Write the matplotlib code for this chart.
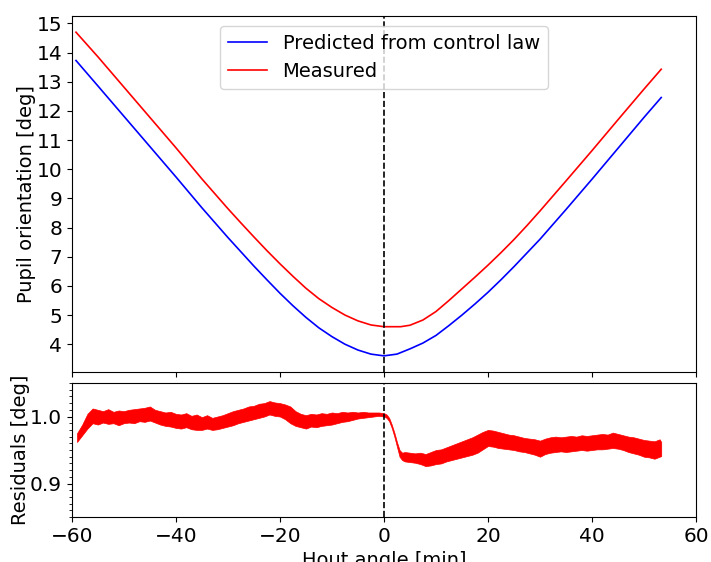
import numpy as np
import matplotlib
matplotlib.use("Agg")
import matplotlib.pyplot as plt
from matplotlib.ticker import MultipleLocator

# predicted pupil orientation (control law) [deg] vs hour angle [min]
pred_x = [-59.2, -55, -50, -45, -40, -35, -30, -27.5, -25, -22.5, -20, -17.5, -15, -12.5, -10, -7.5, -5, -2.5, 0,
          2.5, 5, 7.5, 10, 12.5, 15, 17.5, 20, 22.5, 25, 30, 35, 40, 45, 50, 53.3]
pred_y = [13.73, 12.86, 11.82, 10.78, 9.74, 8.68, 7.66, 7.17, 6.68, 6.21, 5.75, 5.32, 4.92, 4.56, 4.26, 4.00, 3.80, 3.66, 3.60,
          3.66, 3.84, 4.04, 4.30, 4.64, 5.00, 5.38, 5.78, 6.21, 6.66, 7.60, 8.62, 9.66, 10.72, 11.78, 12.46]

# measured pupil orientation [deg]
meas_x = [-59.2, -55, -50, -45, -40, -35, -30, -27.5, -25, -22.5, -20, -17.5, -15, -12.5, -10, -7.5, -5, -2.5, 0, 3.2,
          5, 7.5, 10, 12.5, 15, 17.5, 20, 22.5, 25, 27.5, 30, 35, 40, 45, 50, 53.3]
meas_y = [14.70, 13.86, 12.82, 11.78, 10.74, 9.67, 8.65, 8.16, 7.68, 7.21, 6.76, 6.33, 5.92, 5.56, 5.26, 5.00, 4.80, 4.66, 4.60, 4.60,
          4.65, 4.83, 5.12, 5.50, 5.90, 6.30, 6.71, 7.14, 7.59, 8.07, 8.57, 9.60, 10.64, 11.70, 12.75, 13.43]

# residuals: upper / lower envelope of the noisy trace [deg]
res_x = [-59, -58, -57, -56, -55, -54, -53, -52, -51, -50, -49, -48, -47, -46, -45, -44, -43, -42, -41, -40,
         -39, -38, -37, -36, -35, -34, -33, -32, -31, -30, -29, -28, -27, -26, -25, -24, -23, -22, -21, -20,
         -19, -18, -17, -16, -15, -14, -13, -12, -11, -10, -9, -8, -7, -6, -5, -4, -3, -2, -1, 0,
         0.5, 1, 1.5, 2, 2.5, 3, 3.5, 4, 5, 6, 7, 8, 9, 10, 11, 12, 13, 14, 15, 16, 17, 18, 19, 20,
         21, 22, 23, 24, 25, 26, 27, 28, 29, 30, 31, 32, 33, 34, 35, 36, 37, 38, 39, 40,
         41, 42, 43, 44, 45, 46, 47, 48, 49, 50, 51, 52, 53, 53.3]
res_hi = [0.975, 0.988, 1.004, 1.012, 1.010, 1.008, 1.011, 1.007, 1.009, 1.008, 1.010, 1.011, 1.012, 1.013, 1.015, 1.010, 1.008, 1.006, 1.007, 1.004,
          1.003, 1.005, 1.001, 1.003, 0.999, 1.002, 0.998, 1.000, 1.002, 1.005, 1.008, 1.010, 1.012, 1.015, 1.016, 1.019, 1.020, 1.023, 1.021, 1.020,
          1.018, 1.015, 1.008, 1.004, 1.002, 1.004, 1.003, 1.005, 1.004, 1.006, 1.005, 1.007, 1.006, 1.007, 1.006, 1.007, 1.006, 1.006, 1.006, 1.005,
          1.003, 0.998, 0.988, 0.976, 0.962, 0.950, 0.946, 0.947, 0.946, 0.945, 0.946, 0.944, 0.947, 0.950, 0.951, 0.954, 0.957, 0.960, 0.963, 0.966, 0.969, 0.973, 0.977, 0.980,
          0.979, 0.977, 0.975, 0.973, 0.972, 0.970, 0.968, 0.967, 0.966, 0.964, 0.967, 0.969, 0.970, 0.969, 0.970, 0.971, 0.970, 0.972, 0.971, 0.972,
          0.973, 0.974, 0.973, 0.976, 0.974, 0.972, 0.970, 0.969, 0.967, 0.965, 0.964, 0.963, 0.966, 0.962]
res_lo = [0.962, 0.972, 0.982, 0.990, 0.988, 0.991, 0.989, 0.990, 0.987, 0.990, 0.991, 0.990, 0.993, 0.992, 0.994, 0.991, 0.988, 0.986, 0.985, 0.983,
          0.982, 0.984, 0.981, 0.980, 0.980, 0.982, 0.980, 0.981, 0.983, 0.985, 0.987, 0.990, 0.992, 0.994, 0.996, 0.998, 1.000, 1.003, 1.001, 1.000,
          0.996, 0.990, 0.986, 0.984, 0.982, 0.985, 0.984, 0.986, 0.987, 0.988, 0.990, 0.992, 0.993, 0.995, 0.997, 0.998, 0.999, 1.000, 1.001, 1.000,
          0.998, 0.993, 0.983, 0.970, 0.955, 0.940, 0.935, 0.933, 0.932, 0.931, 0.929, 0.926, 0.927, 0.929, 0.930, 0.933, 0.935, 0.937, 0.939, 0.941, 0.943, 0.946, 0.951, 0.956,
          0.955, 0.953, 0.952, 0.951, 0.950, 0.948, 0.947, 0.945, 0.943, 0.940, 0.944, 0.946, 0.947, 0.948, 0.947, 0.948, 0.949, 0.950, 0.949, 0.950,
          0.951, 0.951, 0.952, 0.953, 0.952, 0.950, 0.947, 0.945, 0.943, 0.940, 0.939, 0.937, 0.940, 0.941]

plt.rcParams["font.size"] = 14
plt.rcParams["xtick.labelsize"] = 14.5
plt.rcParams["ytick.labelsize"] = 14.5

fig = plt.figure(figsize=(7.11, 5.62), dpi=100)
ax1 = fig.add_axes([0.101, 0.338, 0.878, 0.6335])
ax2 = fig.add_axes([0.101, 0.080, 0.878, 0.2385], sharex=ax1)

ax1.plot(pred_x, pred_y, color="blue", linewidth=1.2, label="Predicted from control law")
ax1.plot(meas_x, meas_y, color="red", linewidth=1.2, label="Measured")
ax1.axvline(0, color="black", linestyle="--", linewidth=1.2)
ax1.set_ylabel("Pupil orientation [deg]", labelpad=0)
ax1.yaxis.set_major_locator(MultipleLocator(1))
ax1.legend(loc="upper center", fontsize=14)
ax1.tick_params(labelbottom=False)

ax2.fill_between(res_x, res_lo, res_hi, color="red", linewidth=0.5, edgecolor="red")
ax2.axvline(0, color="black", linestyle="--", linewidth=1.2)
ax2.set_ylim(0.85, 1.05)
ax2.set_xlim(-60, 60)
ax2.xaxis.set_major_locator(MultipleLocator(20))
ax2.yaxis.set_major_locator(MultipleLocator(0.1))
ax2.yaxis.set_minor_locator(MultipleLocator(0.01))
ax2.set_ylabel("Residuals [deg]", labelpad=0)
ax2.set_xlabel("Hout angle [min]")

fig.savefig("out.png", dpi=100)
